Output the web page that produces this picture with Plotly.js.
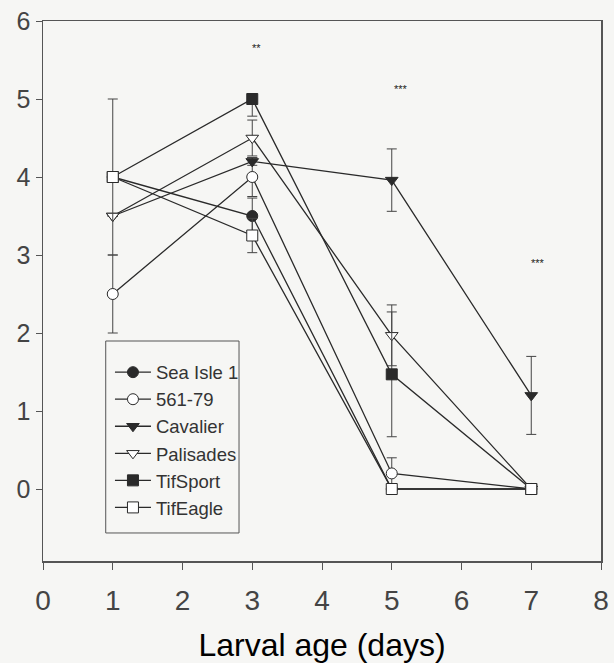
<!DOCTYPE html>
<html>
<head>
<meta charset="utf-8">
<script src="https://cdn.plot.ly/plotly-3.0.1.min.js"></script>
<style>
  html, body { margin: 0; padding: 0; background: #f6f6f4; }
  #chart { width: 614px; height: 663px; }
</style>
</head>
<body>
<div id="chart"></div>
<script>
// Larval age (days)
const days = [1, 3, 5, 7];

const seriesNames = ["Sea Isle 1", "561-79", "Cavalier", "Palisades", "TifSport", "TifEagle"];

const seaIsle1 = [4.0, 3.5, 0.0, 0.0];
const s56179   = [2.5, 4.0, 0.2, 0.0];
const cavalier = [3.5, 4.2, 3.96, 1.2];
const palisades = [3.5, 4.5, 1.97, 0.0];
const tifSport = [4.0, 5.0, 1.47, 0.0];
const tifEagle = [4.0, 3.25, 0.0, 0.0];

// error bars (upper / lower)
const seaIsle1Err   = [0.0, 0.23, 0.0, 0.0];
const s56179Err     = [0.5, 0.25, 0.2, 0.0];
const cavalierErr   = [0.0, 0.05, 0.4, 0.5];
const palisadesErr  = [0.0, 0.23, 0.39, 0.0];
const tifSportErrUp = [0.0, 0.0, 0.8, 0.0];
const tifSportErrDn = [0.0, 0.22, 0.8, 0.0];
const tifEagleErr   = [1.0, 0.22, 0.0, 0.0];

// significance labels
const sigX = [3.06, 5.13, 7.09];
const sigY = [5.66, 5.13, 2.9];
const sigText = ["**", "***", "***"];

const tickLabels = ["0", "1", "2", "3", "4", "5", "6", "7", "8"];
const yTickLabels = ["0", "1", "2", "3", "4", "5", "6"];

const ink = "#2a2a2a";
const sans = "Liberation Sans, Arial, sans-serif";

function mk(name, y, errUp, errDn, symbol, filled) {
  return {
    type: "scatter",
    mode: "lines+markers",
    name: name,
    x: days,
    y: y,
    line: { color: ink, width: 1.3 },
    marker: {
      symbol: symbol,
      size: 11,
      color: filled ? ink : "#ffffff",
      line: { color: ink, width: 1 }
    },
    error_y: {
      type: "data",
      symmetric: errDn === null,
      array: errUp,
      arrayminus: errDn === null ? undefined : errDn,
      color: "#444",
      thickness: 1,
      width: 5
    },
    cliponaxis: false
  };
}

const traces = [
  mk(seriesNames[0], seaIsle1, seaIsle1Err, null, "circle", true),
  mk(seriesNames[1], s56179, s56179Err, null, "circle", false),
  mk(seriesNames[2], cavalier, cavalierErr, null, "triangle-down", true),
  mk(seriesNames[3], palisades, palisadesErr, null, "triangle-down", false),
  mk(seriesNames[4], tifSport, tifSportErrUp, tifSportErrDn, "square", true),
  mk(seriesNames[5], tifEagle, tifEagleErr, null, "square", false)
];

const annotations = sigText.map((t, i) => ({
  x: sigX[i], y: sigY[i], xref: "x", yref: "y",
  text: t, showarrow: false,
  font: { family: sans, size: 11, color: "#222" }
}));

const layout = {
  width: 614,
  height: 663,
  margin: { l: 43, r: 13, t: 21, b: 102 },
  paper_bgcolor: "#f6f6f4",
  plot_bgcolor: "#f6f6f4",
  font: { family: sans, color: "#333" },
  showlegend: true,
  legend: {
    x: 0.120, y: 0.384, xanchor: "left", yanchor: "top",
    bgcolor: "rgba(0,0,0,0)",
    borderwidth: 0,
    font: { family: sans, size: 18.5, color: "#333" },
    itemwidth: 36
  },
  shapes: [{
    type: "rect", xref: "paper", yref: "paper",
    x0: 0.1124, x1: 0.3513, y0: 0.0519, y1: 0.4074,
    line: { color: "#555", width: 1 },
    fillcolor: "#f6f6f4",
    layer: "above"
  }],
  xaxis: {
    range: [0, 8],
    tickvals: [0, 1, 2, 3, 4, 5, 6, 7, 8],
    ticktext: tickLabels,
    ticks: "outside", ticklen: 7, tickcolor: "#555", tickwidth: 1,
    showline: true, linecolor: "#555", linewidth: 1.5, mirror: true,
    showgrid: false, zeroline: false,
    tickfont: { family: sans, size: 28, color: "#444" },
    ticklabelstandoff: 7,
    title: { text: "Larval age (days)", font: { size: 32, color: "#000" }, standoff: 18 }
  },
  yaxis: {
    range: [-0.923, 6],
    tickvals: [0, 1, 2, 3, 4, 5, 6],
    ticktext: yTickLabels,
    ticks: "outside", ticklen: 6, tickcolor: "#555", tickwidth: 1,
    showline: true, linecolor: "#555", linewidth: 1.5, mirror: true,
    showgrid: false, zeroline: false,
    tickfont: { family: sans, size: 25, color: "#444" }
  },
  annotations: annotations
};

Plotly.newPlot("chart", traces, layout, { displayModeBar: false, staticPlot: true });
</script>
</body>
</html>
